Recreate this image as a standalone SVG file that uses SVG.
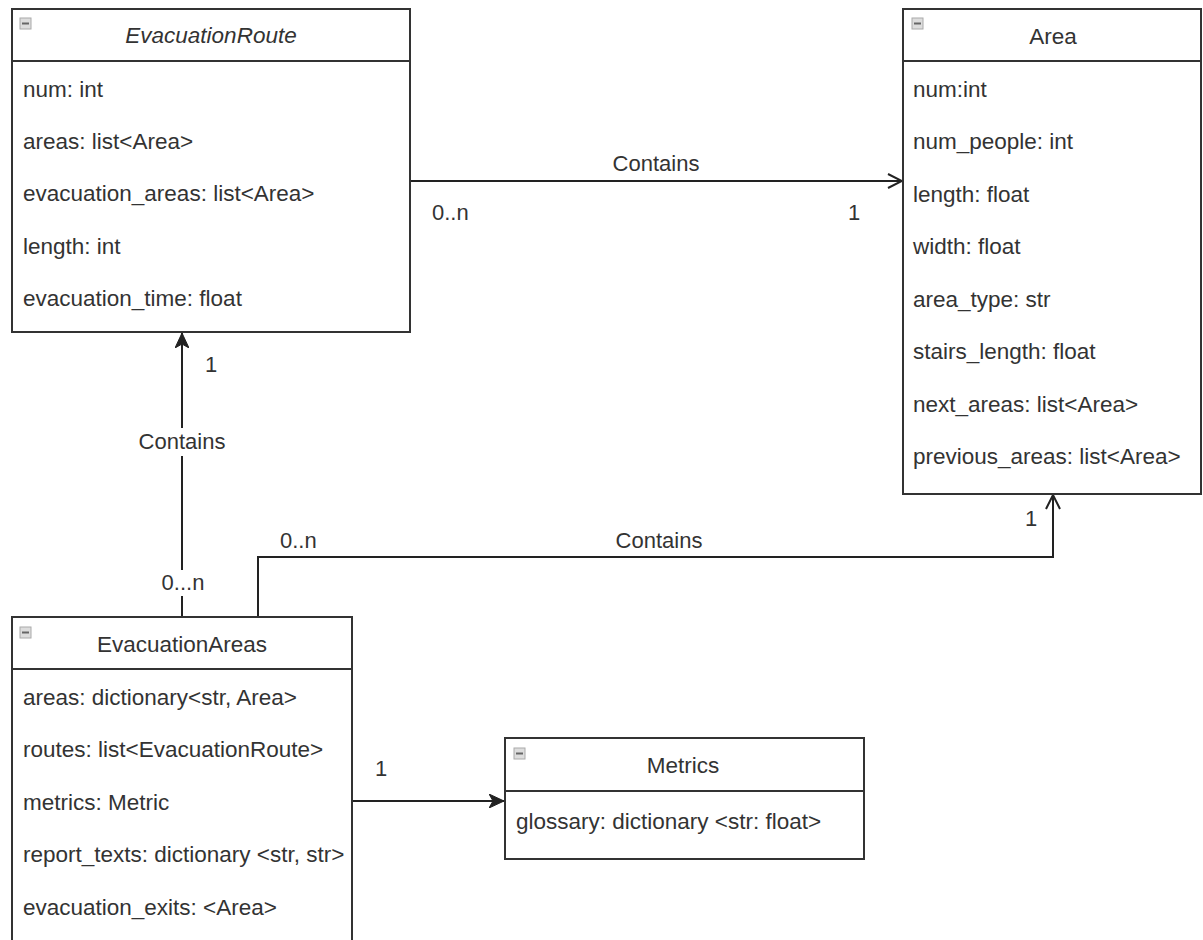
<svg xmlns="http://www.w3.org/2000/svg" width="1203" height="940" viewBox="0 0 1203 940">
  <style>
    .box { fill: #ffffff; stroke: #333333; stroke-width: 2; }
    .sep { stroke: #333333; stroke-width: 2; }
    .t { font-family: "Liberation Sans", Arial, sans-serif; font-size: 22.5px; fill: #333333; }
    .title { text-anchor: middle; }
    .it { font-style: italic; }
    .lbl { font-family: "Liberation Sans", Arial, sans-serif; font-size: 22px; fill: #333333; }
    .mid { text-anchor: middle; }
    .edge { fill: none; stroke: #222222; stroke-width: 2; }
    .icon { fill: #dddddd; stroke: #aaaaaa; stroke-width: 1; }
    .iconbar { stroke: #666666; stroke-width: 2; }
  </style>
  <defs>
    <marker id="open" viewBox="0 0 16 16" refX="15" refY="8" markerWidth="16" markerHeight="16" markerUnits="userSpaceOnUse" orient="auto">
      <path d="M1,1 L15,8 L1,15" fill="none" stroke="#222222" stroke-width="2"/>
    </marker>
    <marker id="block" viewBox="0 0 16 14" refX="15" refY="7" markerWidth="16" markerHeight="14" markerUnits="userSpaceOnUse" orient="auto">
      <path d="M0,0 L15,7 L0,14 L4,7 Z" fill="#222222" stroke="#222222" stroke-width="1"/>
    </marker>
  </defs>

  <rect width="1203" height="940" fill="#ffffff"/>

  <g id="connectors">
    <!-- EvacuationRoute -> Area -->
    <path class="edge" d="M410,181 L902,181" marker-end="url(#open)"/>
    <text class="lbl mid" x="656" y="171">Contains</text>
    <text class="lbl" x="432" y="220">0..n</text>
    <text class="lbl" x="848" y="220">1</text>

    <!-- EvacuationAreas -> EvacuationRoute -->
    <path class="edge" d="M182,617 L182,333" marker-end="url(#block)"/>
    <rect x="134" y="428" width="96" height="28" fill="#ffffff"/>
    <text class="lbl mid" x="182" y="449">Contains</text>
    <rect x="156" y="570" width="54" height="26" fill="#ffffff"/>
    <text class="lbl mid" x="183" y="590">0...n</text>
    <text class="lbl" x="205" y="372">1</text>

    <!-- EvacuationAreas -> Area -->
    <path class="edge" d="M258,617 L258,557 L1053,557 L1053,495" marker-end="url(#open)"/>
    <text class="lbl" x="280" y="548">0..n</text>
    <text class="lbl mid" x="659" y="548">Contains</text>
    <text class="lbl" x="1025" y="526">1</text>

    <!-- EvacuationAreas -> Metrics -->
    <path class="edge" d="M352,801 L504,801" marker-end="url(#block)"/>
    <text class="lbl" x="375" y="776">1</text>
  </g>

  <g id="EvacuationRoute">
    <rect class="box" x="12" y="9" width="398" height="323"/>
    <line class="sep" x1="12" y1="61" x2="410" y2="61"/>
    <rect class="icon" x="20" y="18" width="11" height="11"/>
    <line class="iconbar" x1="22" y1="23.5" x2="29" y2="23.5"/>
    <text class="t title it" x="211" y="43">EvacuationRoute</text>
    <text class="t" x="23" y="97">num: int</text>
    <text class="t" x="23" y="149">areas: list&lt;Area&gt;</text>
    <text class="t" x="23" y="201">evacuation_areas: list&lt;Area&gt;</text>
    <text class="t" x="23" y="254">length: int</text>
    <text class="t" x="23" y="306">evacuation_time: float</text>
  </g>

  <g id="Area">
    <rect class="box" x="903" y="9" width="298" height="485"/>
    <line class="sep" x1="903" y1="61" x2="1201" y2="61"/>
    <rect class="icon" x="912" y="18" width="11" height="11"/>
    <line class="iconbar" x1="914" y1="23.5" x2="921" y2="23.5"/>
    <text class="t title" x="1053" y="44">Area</text>
    <text class="t" x="913" y="97">num:int</text>
    <text class="t" x="913" y="149">num_people: int</text>
    <text class="t" x="913" y="202">length: float</text>
    <text class="t" x="913" y="254">width: float</text>
    <text class="t" x="913" y="307">area_type: str</text>
    <text class="t" x="913" y="359">stairs_length: float</text>
    <text class="t" x="913" y="412">next_areas: list&lt;Area&gt;</text>
    <text class="t" x="913" y="464">previous_areas: list&lt;Area&gt;</text>
  </g>

  <g id="EvacuationAreas">
    <rect class="box" x="12" y="617" width="340" height="330"/>
    <line class="sep" x1="12" y1="669" x2="352" y2="669"/>
    <rect class="icon" x="20" y="627" width="11" height="11"/>
    <line class="iconbar" x1="22" y1="632.5" x2="29" y2="632.5"/>
    <text class="t title" x="182" y="652">EvacuationAreas</text>
    <text class="t" x="23" y="705">areas: dictionary&lt;str, Area&gt;</text>
    <text class="t" x="23" y="757">routes: list&lt;EvacuationRoute&gt;</text>
    <text class="t" x="23" y="810">metrics: Metric</text>
    <text class="t" x="23" y="862">report_texts: dictionary &lt;str, str&gt;</text>
    <text class="t" x="23" y="915">evacuation_exits: &lt;Area&gt;</text>
  </g>

  <g id="Metrics">
    <rect class="box" x="505" y="738" width="359" height="121"/>
    <line class="sep" x1="505" y1="791" x2="864" y2="791"/>
    <rect class="icon" x="514" y="748" width="11" height="11"/>
    <line class="iconbar" x1="516" y1="753.5" x2="523" y2="753.5"/>
    <text class="t title" x="683" y="773">Metrics</text>
    <text class="t" x="516" y="829">glossary: dictionary &lt;str: float&gt;</text>
  </g>
</svg>
